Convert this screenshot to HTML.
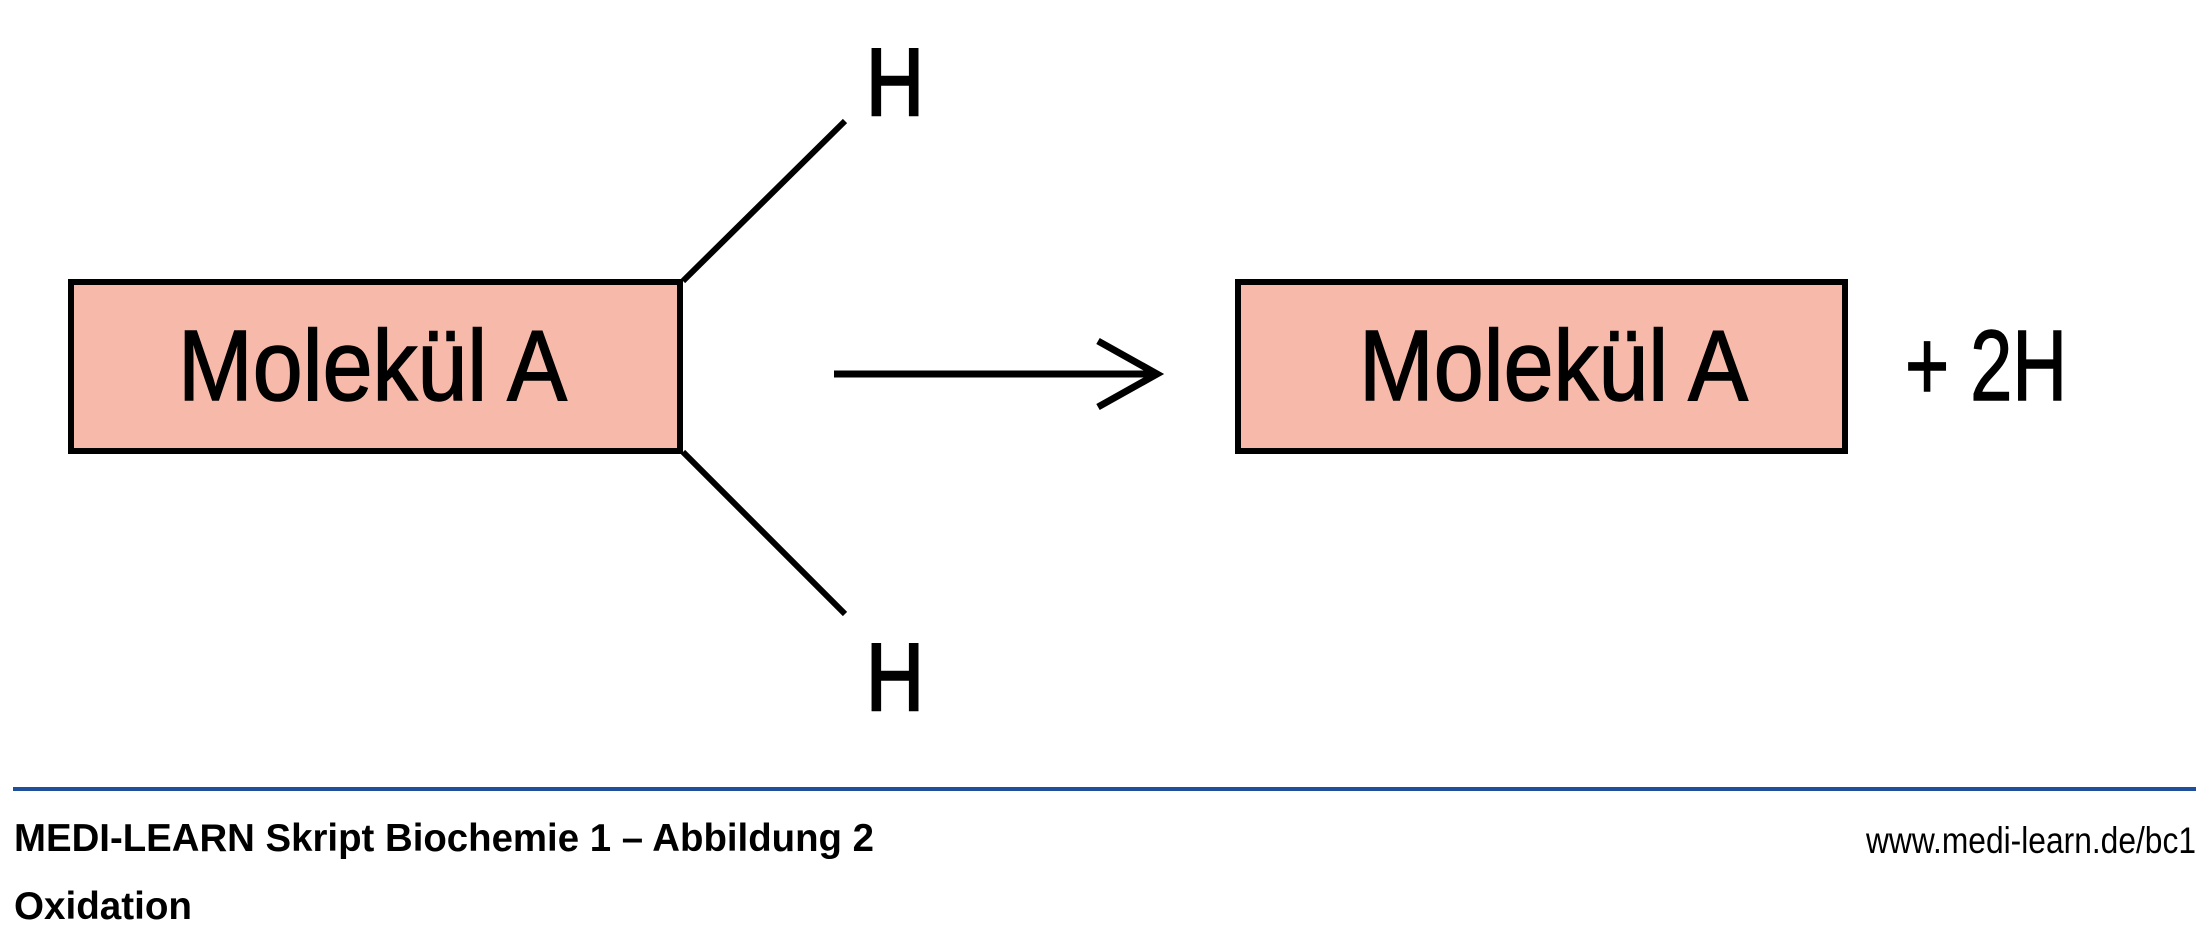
<!DOCTYPE html>
<html><head><meta charset="utf-8"><style>
html,body{margin:0;padding:0;background:#fff;}
svg{display:block;}
text{font-family:"Liberation Sans Narrow","Liberation Sans",sans-serif;fill:#000;}
</style></head><body>
<svg width="2210" height="934" viewBox="0 0 2210 934" xmlns="http://www.w3.org/2000/svg">
<rect x="71" y="282" width="609" height="169" fill="#f7b9a9" stroke="#000" stroke-width="6"/>
<text x="178" y="400" font-size="100" textLength="389" lengthAdjust="spacingAndGlyphs" stroke="#000" stroke-width="1.5">Molekül A</text>
<line x1="683" y1="281" x2="845" y2="121" stroke="#000" stroke-width="6"/>
<line x1="683" y1="452" x2="845" y2="614" stroke="#000" stroke-width="6"/>
<text x="866" y="115" font-size="96" textLength="58" lengthAdjust="spacingAndGlyphs" stroke="#000" stroke-width="2.5">H</text>
<text x="866" y="710" font-size="96" textLength="58" lengthAdjust="spacingAndGlyphs" stroke="#000" stroke-width="2.5">H</text>
<line x1="834" y1="374" x2="1156" y2="374" stroke="#000" stroke-width="7"/>
<polyline points="1098,341 1157,374 1098,407" fill="none" stroke="#000" stroke-width="7"/>
<rect x="1238" y="282" width="607" height="169" fill="#f7b9a9" stroke="#000" stroke-width="6"/>
<text x="1359" y="400" font-size="100" textLength="389" lengthAdjust="spacingAndGlyphs" stroke="#000" stroke-width="1.5">Molekül A</text>
<text x="1905" y="400" font-size="100" textLength="162" lengthAdjust="spacingAndGlyphs" stroke="#000" stroke-width="1.5">+ 2H</text>
<line x1="13" y1="789" x2="2196" y2="789" stroke="#1f4f9a" stroke-width="4"/>
<text x="14" y="851" font-size="39" font-weight="bold" textLength="860" lengthAdjust="spacingAndGlyphs">MEDI-LEARN Skript Biochemie 1 – Abbildung 2</text>
<text x="14" y="919" font-size="39" font-weight="bold" textLength="178" lengthAdjust="spacingAndGlyphs">Oxidation</text>
<text x="1866" y="853" font-size="37" textLength="330" lengthAdjust="spacingAndGlyphs">www.medi-learn.de/bc1</text>
</svg>
</body></html>
